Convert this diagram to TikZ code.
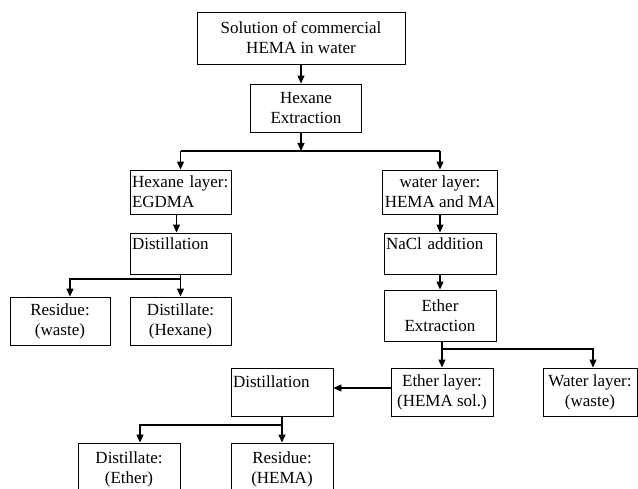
\documentclass[tikz,border=0pt]{standalone}
\usepackage{fontspec}
\setmainfont{Liberation Serif}
\usetikzlibrary{arrows.meta, positioning}

\begin{document}
\begin{tikzpicture}[
    x=1pt, y=-1pt,
    box/.style={draw, line width=0.9pt, inner sep=2pt, align=center, font=\fontsize{17}{20}\selectfont},
    leftbox/.style={box, align=left, inner xsep=2pt},
    arr/.style={draw, line width=1.1pt, -{Triangle[length=8pt, width=7pt]}}
]
    \useasboundingbox (0,0) rectangle (638,489);
    \clip (0,0) rectangle (638,489);

    % Start and first extraction
    \node[box, minimum width=208pt, minimum height=52pt] (sol) at (301,38) {Solution of commercial\\HEMA in water};
    \node[box, minimum width=111pt, minimum height=48pt] (hexext) at (306,108) {Hexane\\Extraction};

    % Hexane side
    \node[leftbox, text width=97pt, minimum height=44pt] (hexlayer) at (180.5,192) {Hexane layer:\\EGDMA};
    \node[leftbox, text width=97pt, minimum height=41pt] (dist1) at (180.5,253.5) {Distillation\\\mbox{}};
    \node[box, minimum width=100pt, minimum height=48pt] (res1) at (60,321) {Residue:\\(waste)};
    \node[box, minimum width=101pt, minimum height=48pt] (dis1) at (180.5,321) {Distillate:\\(Hexane)};

    % Water side
    \node[box, minimum width=112pt, minimum height=44pt] (waterlayer) at (440,192) {water layer:\\HEMA and MA};
    \node[leftbox, text width=108pt, minimum height=41pt] (nacl) at (440,253.5) {NaCl addition\\\mbox{}};
    \node[box, minimum width=112pt, minimum height=51pt] (etherext) at (440,315.5) {Ether\\Extraction};
    \node[box, minimum width=102pt, minimum height=48pt] (etherlayer) at (442,392) {Ether layer:\\(HEMA sol.)};
    \node[box, minimum width=94pt, minimum height=48pt] (waterwaste) at (590,392) {Water layer:\\(waste)};

    % Ether side
    \node[leftbox, text width=98pt, minimum height=48pt] (dist2) at (282,392) {Distillation\\\mbox{}};
    \node[box, minimum width=102pt, minimum height=52pt] (dis2) at (129,469) {Distillate:\\(Ether)};
    \node[box, minimum width=102pt, minimum height=52pt] (res2) at (282,469) {Residue:\\(HEMA)};

    % Branch points
    \coordinate (j1) at (301,151);
    \coordinate (j2) at (442,349);
    \coordinate (j3) at (282,425);
    \coordinate (j4) at (180.5,279);

    % Arrows
    \draw[arr] (sol.south) -- (sol.south |- hexext.north);
    \draw[arr] (sol.south |- hexext.south) -- (j1);
    \draw[line width=1.1pt] (hexlayer.north |- j1) -- (waterlayer.north |- j1);
    \draw[arr] (hexlayer.north |- j1) -- (hexlayer.north);
    \draw[arr] (waterlayer.north |- j1) -- (waterlayer.north);
    \draw[arr] ([xshift=-4pt]hexlayer.south) -- ([xshift=-4pt]dist1.north);
    \draw[arr] (dist1) -- (dis1);
    \draw[arr] (j4) -| ([xshift=10pt]res1.north);
    \draw[arr] (waterlayer) -- (nacl);
    \draw[arr] (nacl) -- (etherext);
    \draw[arr] (etherlayer.north |- etherext.south) -- (etherlayer.north);
    \draw[arr] (j2) -| ([xshift=3pt]waterwaste.north);
    \draw[arr] ([yshift=4pt]etherlayer.west) -- ([yshift=4pt]dist2.east);
    \draw[arr] (dist2) -- (res2);
    \draw[arr] (j3) -| ([xshift=11pt]dis2.north);
\end{tikzpicture}
\end{document}
